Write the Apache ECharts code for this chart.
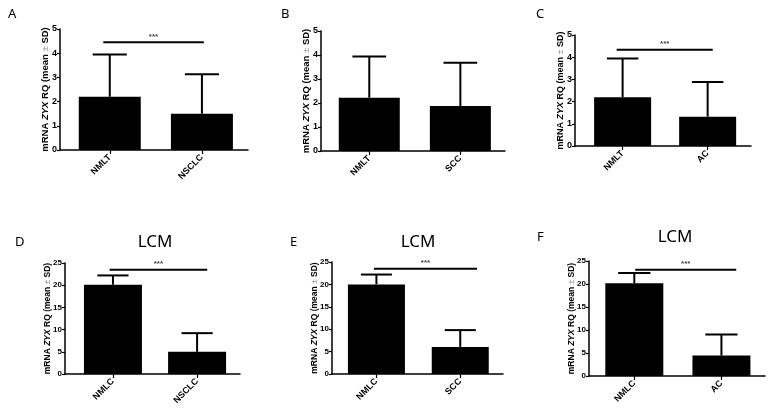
<!DOCTYPE html>
<html><head><meta charset="utf-8">
<script src="https://cdn.jsdelivr.net/npm/echarts@6/dist/echarts.min.js"></script>
<style>html,body{margin:0;padding:0;background:#fff}#c{width:773px;height:412px}</style>
</head><body><div id="c"></div>
<script>
// ---- data ----
var catsA = ['NMLT', 'NSCLC'], meanA = [2.2, 1.5],   sdA = [1.75, 1.63], sigA = 4.45;
var catsB = ['NMLT', 'SCC'],   meanB = [2.22, 1.87], sdB = [1.72, 1.81], sigB = null;
var catsC = ['NMLT', 'AC'],    meanC = [2.2, 1.32],  sdC = [1.74, 1.56], sigC = 4.34;
var catsD = ['NMLC', 'NSCLC'], meanD = [20.1, 5.0],  sdD = [2.1, 4.2],   sigD = 23.5;
var catsE = ['NMLC', 'SCC'],   meanE = [20.0, 6.05], sdE = [2.2, 3.75],  sigE = 23.5;
var catsF = ['NMLC', 'AC'],    meanF = [20.15, 4.43],sdF = [2.25, 4.57], sigF = 23.1;
var ticksTop = [0, 1, 2, 3, 4, 5];
var ticksBottom = [0, 5, 10, 15, 20, 25];
var sigText = '***';
var panelLetters = ['A', 'B', 'C', 'D', 'E', 'F'];
var lcmTitle = 'LCM';

// ---- layout ----
var FONT = 'Liberation Sans, Arial, sans-serif';
var panels = [
  {cats: catsA, mean: meanA, sd: sdA, sig: sigA, ticks: ticksTop, grid: {left: 60, right: 525, top: 29, bottom: 262}, xr: [-0.54, 1.5], bw: 62, sigX: [-0.07, 1.02], nameSize: 9.5, tickSize: 9, gap: 10, letter: [8, 8], lcm: null},
  {cats: catsB, mean: meanB, sd: sdB, sig: sigB, ticks: ticksTop, grid: {left: 321, right: 268, top: 31, bottom: 261}, xr: [-0.53, 1.49], bw: 61, sigX: null, nameSize: 9.5, tickSize: 9, gap: 10, letter: [281, 8], lcm: null},
  {cats: catsC, mean: meanC, sd: sdC, sig: sigC, ticks: ticksTop, grid: {left: 575, right: 22, top: 35, bottom: 266}, xr: [-0.56, 1.51], bw: 57, sigX: [-0.07, 1.06], nameSize: 9, tickSize: 9, gap: 10, letter: [536, 8], lcm: null},
  {cats: catsD, mean: meanD, sd: sdD, sig: sigD, ticks: ticksBottom, grid: {left: 65, right: 533, top: 263, bottom: 38}, xr: [-0.57, 1.51], bw: 58, sigX: [-0.04, 1.12], nameSize: 8.5, tickSize: 8, gap: 13, letter: [15, 236], lcm: [155, 234]},
  {cats: catsE, mean: meanE, sd: sdE, sig: sigE, ticks: ticksBottom, grid: {left: 332, right: 270, top: 262, bottom: 38}, xr: [-0.53, 1.51], bw: 57, sigX: [-0.03, 1.2], nameSize: 8.5, tickSize: 8, gap: 13, letter: [290, 236], lcm: [418, 234]},
  {cats: catsF, mean: meanF, sd: sdF, sig: sigF, ticks: ticksBottom, grid: {left: 589, right: 8, top: 261, bottom: 36}, xr: [-0.52, 1.5], bw: 58, sigX: [0.01, 1.17], nameSize: 8.5, tickSize: 8, gap: 13, letter: [537, 231], lcm: [675, 229]}
];

var grids = [], xAxes = [], yAxes = [], series = [], titles = [];
panels.forEach(function (p, i) {
  grids.push(Object.assign({containLabel: false}, p.grid));
  var cats = p.cats;
  xAxes.push({
    type: 'value', gridIndex: i, min: p.xr[0], max: p.xr[1],
    splitLine: {show: false},
    axisLine: {show: true, onZero: false, lineStyle: {color: '#000', width: 1.5}},
    axisTick: {show: true, customValues: [0, 1], length: 4, lineStyle: {color: '#000', width: 1.2}},
    axisLabel: {show: true, customValues: [0, 1], rotate: 45, margin: 6,
      formatter: function (v) { return cats[Math.round(v)]; },
      color: '#000', fontFamily: FONT, fontWeight: 'bold', fontSize: 9}
  });
  var tks = p.ticks;
  yAxes.push({
    type: 'value', gridIndex: i, min: tks[0], max: tks[tks.length - 1], interval: tks[1] - tks[0],
    splitLine: {show: false},
    axisLine: {show: true, onZero: false, lineStyle: {color: '#000', width: 1.5}},
    axisTick: {show: true, length: 3, lineStyle: {color: '#000', width: 1.2}},
    axisLabel: {color: '#000', fontFamily: FONT, fontWeight: 'bold', fontSize: p.tickSize, margin: 3},
    name: '{a|mRNA }{b|ZYX}{a| RQ (mean }{c|±}{a| SD)}',
    nameLocation: 'middle', nameRotate: 90, nameGap: p.gap, nameMoveOverlap: false,
    nameTextStyle: {
      rich: {
        a: {fontFamily: FONT, fontWeight: 'bold', fontSize: p.nameSize, color: '#000'},
        b: {fontFamily: FONT, fontWeight: 'bold', fontStyle: 'italic', fontSize: p.nameSize, color: '#000'},
        c: {fontFamily: FONT, fontWeight: 'normal', fontSize: p.nameSize, color: '#999'}
      }
    }
  });
  series.push({
    type: 'bar', xAxisIndex: i, yAxisIndex: i, barWidth: p.bw,
    itemStyle: {color: '#000'}, silent: true, animation: false,
    data: p.mean.map(function (m, k) { return [k, m]; })
  });
  var sdArr = p.sd;
  series.push({
    type: 'custom', xAxisIndex: i, yAxisIndex: i, animation: false, silent: true,
    data: p.mean.map(function (m, k) { return [k, m, m + sdArr[k]]; }),
    renderItem: function (params, api) {
      var x = api.value(0);
      var lo = api.coord([x, api.value(1)]);
      var hi = api.coord([x, api.value(2)]);
      var half = api.size([1, 0])[0] * 0.185;
      return {type: 'group', children: [
        {type: 'line', shape: {x1: lo[0], y1: lo[1], x2: hi[0], y2: hi[1]}, style: {stroke: '#000', lineWidth: 2}},
        {type: 'line', shape: {x1: hi[0] - half, y1: hi[1], x2: hi[0] + half, y2: hi[1]}, style: {stroke: '#000', lineWidth: 2}}
      ]};
    }
  });
  if (p.sig !== null) {
    var sx = p.sigX;
    series.push({
      type: 'custom', xAxisIndex: i, yAxisIndex: i, animation: false, silent: true,
      data: [[0, p.sig]],
      renderItem: function (params, api) {
        var a = api.coord([sx[0], api.value(1)]);
        var b = api.coord([sx[1], api.value(1)]);
        return {type: 'group', children: [
          {type: 'line', shape: {x1: a[0], y1: a[1], x2: b[0], y2: b[1]}, style: {stroke: '#000', lineWidth: 2}},
          {type: 'text', x: (a[0] + b[0]) / 2, y: a[1] - 2,
           style: {text: sigText, fill: '#444', font: 'bold 8px ' + FONT, align: 'center', verticalAlign: 'bottom'}}
        ]};
      }
    });
  }
  titles.push({text: panelLetters[i], left: p.letter[0], top: p.letter[1], padding: 0,
    textStyle: {fontFamily: 'Noto Sans, sans-serif', fontWeight: 'normal', fontSize: 13, color: '#000'}});
  if (p.lcm) {
    titles.push({text: lcmTitle, left: p.lcm[0], top: p.lcm[1], textAlign: 'center', padding: 0,
      textStyle: {fontFamily: 'Noto Sans, sans-serif', fontWeight: 'normal', fontSize: 17, color: '#000'}});
  }
});

var chart = echarts.init(document.getElementById('c'), null, {renderer: 'canvas'});
chart.setOption({
  backgroundColor: '#fff', animation: false,
  title: titles, grid: grids, xAxis: xAxes, yAxis: yAxes, series: series
});
</script></body></html>
